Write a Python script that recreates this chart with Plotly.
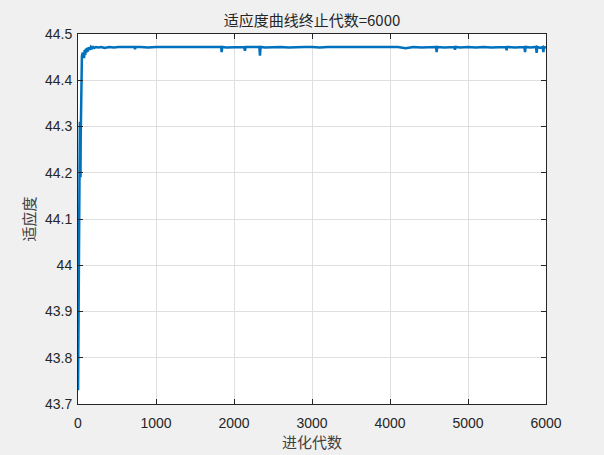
import plotly.graph_objects as go

# Generations and fitness values
gens = [1, 3, 5, 7, 9, 11, 13, 16, 20, 24, 27, 29, 32, 35, 38, 41, 45, 50, 55, 62, 70, 78, 85, 92, 100,
        108, 115, 125, 135, 150, 165, 180, 195, 210, 230, 260, 300, 340, 400, 460, 520, 600, 700,
        725, 731, 737, 800, 900, 1000, 1100, 1200, 1300, 1400, 1500, 1600, 1700, 1800, 1835, 1842, 1849,
        1900, 2000, 2130, 2140, 2150, 2200, 2300, 2325, 2333, 2341, 2400, 2500, 2600, 2700, 2800, 2900,
        3000, 3100, 3200, 3300, 3400, 3500, 3600, 3700, 3800, 3900, 4000, 4100, 4200, 4300, 4400, 4500,
        4590, 4598, 4606, 4700, 4825, 4833, 4841, 4900, 5000, 5100, 5200, 5300, 5400, 5487, 5495, 5503,
        5600, 5700, 5723, 5731, 5739, 5800, 5872, 5880, 5888, 5930, 5958, 5966, 5974, 6000]
fitness = [43.73, 43.78, 43.92, 44.02, 44.10, 44.18, 44.26, 44.30, 44.29, 44.31, 44.24, 44.20, 44.19, 44.28, 44.36, 44.44,
           44.45, 44.452, 44.456, 44.46, 44.455, 44.448, 44.465, 44.455, 44.468, 44.46, 44.47, 44.462, 44.471, 44.466,
           44.472, 44.469, 44.472, 44.47, 44.472, 44.471, 44.472, 44.47, 44.472, 44.471, 44.472, 44.472, 44.472,
           44.472, 44.467, 44.472, 44.472, 44.471, 44.472, 44.472, 44.471, 44.472, 44.472, 44.471, 44.472, 44.472,
           44.472, 44.472, 44.461, 44.472,
           44.471, 44.472, 44.472, 44.464, 44.472, 44.472, 44.472, 44.472, 44.453, 44.472, 44.471, 44.472, 44.472,
           44.471, 44.472, 44.472,
           44.472, 44.471, 44.472, 44.472, 44.471, 44.472, 44.472, 44.471, 44.472, 44.472, 44.471, 44.472, 44.469,
           44.472, 44.471, 44.472,
           44.472, 44.461, 44.472, 44.471, 44.472, 44.466, 44.472, 44.471, 44.472, 44.471, 44.472, 44.471, 44.472,
           44.472, 44.465, 44.472,
           44.471, 44.472, 44.472, 44.461, 44.472, 44.471, 44.472, 44.459, 44.472, 44.470, 44.472, 44.461, 44.472,
           44.471]

x_ticks = [0, 1000, 2000, 3000, 4000, 5000, 6000]
y_ticks = [43.7, 43.8, 43.9, 44.0, 44.1, 44.2, 44.3, 44.4, 44.5]
y_tick_labels = ["43.7", "43.8", "43.9", "44", "44.1", "44.2", "44.3", "44.4", "44.5"]

title_text = "适应度曲线终止代数=6000"
x_label = "进化代数"
y_label = "适应度"

font_fam = "Liberation Sans, Arial, Noto Sans CJK SC"
axis_col = "#262626"
grid_col = "#dfdfdf"

fig = go.Figure()
fig.add_trace(go.Scatter(x=gens, y=fitness, mode="lines",
                         line=dict(color="#0072BD", width=2.5), showlegend=False))

fig.update_layout(
    width=604, height=455,
    paper_bgcolor="#f0f0f0", plot_bgcolor="#ffffff",
    margin=dict(l=78, r=58, t=34, b=51),
    title=dict(text=title_text, x=0.5, xref="paper", xanchor="center", y=1 - 21 / 455, yanchor="middle",
               font=dict(family="Noto Sans CJK SC, Liberation Sans", size=15, color=axis_col)),
    font=dict(family=font_fam, size=14, color=axis_col),
)
fig.update_xaxes(range=[0, 6000], tickvals=x_ticks, ticks="inside", ticklen=5, tickcolor=axis_col,
                 showline=True, linecolor=axis_col, linewidth=1, mirror="ticks", automargin=False,
                 showgrid=True, gridcolor=grid_col, gridwidth=1, zeroline=False, ticklabelstandoff=6,
                 tickfont=dict(family=font_fam, size=14, color=axis_col),
                 title=dict(text=x_label, standoff=6,
                            font=dict(family="Noto Sans CJK SC", size=15, color="#404040")))
fig.update_yaxes(range=[43.7, 44.5], tickvals=y_ticks, ticktext=y_tick_labels, ticks="inside", ticklen=5,
                 tickcolor=axis_col, showline=True, linecolor=axis_col, linewidth=1, mirror="ticks",
                 automargin=False, ticklabelstandoff=2,
                 showgrid=True, gridcolor=grid_col, gridwidth=1, zeroline=False,
                 tickfont=dict(family=font_fam, size=14, color=axis_col),
                 title=dict(text=y_label, standoff=5,
                            font=dict(family="Noto Sans CJK SC", size=15, color="#404040")))

fig.write_html("out.html", config={"displayModeBar": False},
               post_script="document.body.style.margin='0';document.body.style.background='#f0f0f0';")
